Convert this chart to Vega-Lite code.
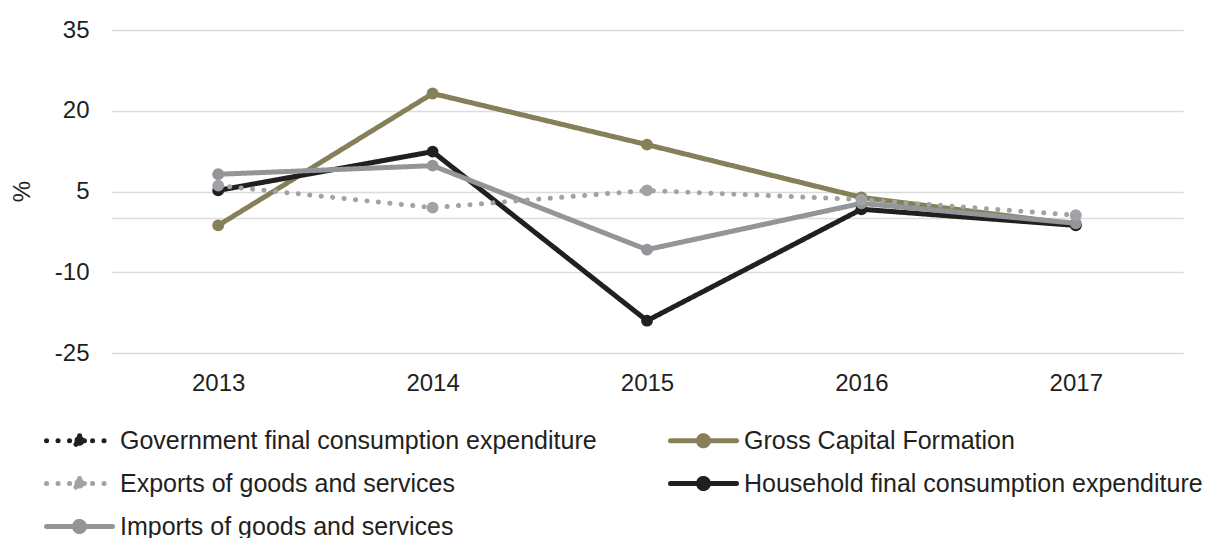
{
  "$schema": "https://vega.github.io/schema/vega-lite/v6.json",
  "autosize": "none",
  "width": 1072,
  "height": 323,
  "padding": {"left": 111, "top": 30, "right": 22, "bottom": 185},
  "background": "white",
  "config": {
    "font": "Liberation Sans",
    "view": {"stroke": null},
    "axis": {"labelFont": "Liberation Sans", "labelFontSize": 24, "labelColor": "#231f20", "titleFont": "Liberation Sans", "titleFontSize": 24, "titleColor": "#231f20", "titleFontWeight": "normal"}
  },
  "data": {
    "values": [
      {"year": "2013", "series": "Gross Capital Formation", "value": -1.3},
      {"year": "2014", "series": "Gross Capital Formation", "value": 23.2},
      {"year": "2015", "series": "Gross Capital Formation", "value": 13.7},
      {"year": "2016", "series": "Gross Capital Formation", "value": 3.9},
      {"year": "2017", "series": "Gross Capital Formation", "value": -1.1},
      {"year": "2013", "series": "Household final consumption expenditure", "value": 5.2},
      {"year": "2014", "series": "Household final consumption expenditure", "value": 12.4},
      {"year": "2015", "series": "Household final consumption expenditure", "value": -19.0},
      {"year": "2016", "series": "Household final consumption expenditure", "value": 1.7},
      {"year": "2017", "series": "Household final consumption expenditure", "value": -1.3},
      {"year": "2013", "series": "Imports of goods and services", "value": 8.2},
      {"year": "2014", "series": "Imports of goods and services", "value": 9.8},
      {"year": "2015", "series": "Imports of goods and services", "value": -5.8},
      {"year": "2016", "series": "Imports of goods and services", "value": 2.8},
      {"year": "2017", "series": "Imports of goods and services", "value": -0.9},
      {"year": "2013", "series": "Exports of goods and services", "value": 6.1},
      {"year": "2014", "series": "Exports of goods and services", "value": 2.0},
      {"year": "2015", "series": "Exports of goods and services", "value": 5.2},
      {"year": "2016", "series": "Exports of goods and services", "value": 3.5},
      {"year": "2017", "series": "Exports of goods and services", "value": 0.6}
    ]
  },
  "encoding": {
    "x": {
      "field": "year", "type": "ordinal",
      "scale": {"type": "point", "padding": 0.5},
      "axis": {"title": null, "labelAngle": 0, "ticks": false, "domain": false, "grid": false, "labelPadding": 18}
    },
    "y": {
      "field": "value", "type": "quantitative",
      "scale": {"domain": [-25, 35], "nice": false, "zero": false},
      "axis": {
        "title": "%", "values": [-25, -10, 0, 5, 20, 35],
        "labelExpr": "datum.value == 0 ? '' : '' + datum.value",
        "ticks": false, "domain": false, "grid": true, "gridColor": "#dcdcdc", "gridWidth": 1.5,
        "labelPadding": 22, "titleX": -89, "titleY": 161, "titleAlign": "center", "titleBaseline": "middle", "titleAngle": 270
      }
    },
    "color": {
      "field": "series", "type": "nominal",
      "scale": {
        "domain": ["Government final consumption expenditure", "Exports of goods and services", "Imports of goods and services", "Gross Capital Formation", "Household final consumption expenditure"],
        "range": ["#231f20", "#a0a2a5", "#939598", "#858058", "#231f20"]
      },
      "legend": {
        "title": null, "orient": "none", "legendX": -44, "legendY": 398, "columns": 2, "columnPadding": 63, "rowPadding": 12, "padding": 0,
        "labelFont": "Liberation Sans", "labelFontSize": 25, "labelColor": "#231f20", "labelLimit": 0, "labelOffset": 28,
        "symbolType": "M-3.3,0H3.3M0.5,0A0.5,0.5,0,1,1,-0.5,0A0.5,0.5,0,1,1,0.5,0Z",
        "symbolSize": 400, "symbolStrokeWidth": 5,
        "encode": {"symbols": {"update": {"fill": {"scale": "color", "field": "value"}, "strokeCap": {"value": "round"}, "opacity": {"value": 1}}}}
      }
    }
  },
  "layer": [
    {
      "mark": {"type": "line", "strokeWidth": 5, "strokeCap": "round", "strokeJoin": "round"},
      "encoding": {
        "strokeDash": {
          "field": "series", "type": "nominal",
          "scale": {
            "domain": ["Government final consumption expenditure", "Exports of goods and services", "Imports of goods and services", "Gross Capital Formation", "Household final consumption expenditure"],
            "range": [[0.1, 11.4], [0.1, 11.4], [1, 0], [1, 0], [1, 0]]
          },
          "legend": null
        }
      }
    },
    {
      "mark": {"type": "point", "filled": true, "size": 140, "opacity": 1}
    }
  ]
}
